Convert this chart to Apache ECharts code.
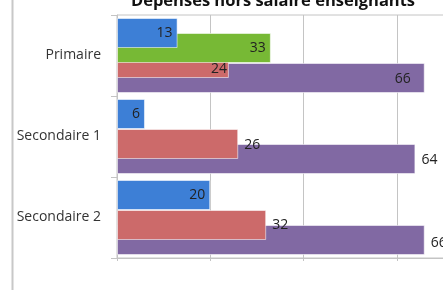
<!DOCTYPE html>
<html>
<head>
<meta charset="utf-8">
<script src="https://cdn.jsdelivr.net/npm/echarts@6/dist/echarts.min.js"></script>
<style>
  html, body { margin: 0; padding: 0; background: #fff; }
  #chart { width: 443px; height: 290px; }
</style>
</head>
<body>
<div id="chart"></div>
<script>
// donnees
const categories = ['Primaire', 'Secondaire 1', 'Secondaire 2']
const serieBleue = [13, 6, 20]
const serieVerte = [33, null, null]
const serieRouge = [24, 26, 32]
const serieViolette = [66, 64, 66]
const xTicks = [0, 20, 40, 60, 80]

const chart = echarts.init(document.getElementById('chart'), null, { renderer: 'canvas' })

const labelFont = { fontFamily: 'Open Sans', fontSize: 14, color: '#222' }

// position des etiquettes (comme Excel : dedans ou a droite)
function labels(values, where, offsets) {
  return values.map((v, i) => ({
    value: v,
    label: Object.assign({
      show: v != null,
      position: where[i] === 'in' ? 'insideRight' : 'right',
      distance: where[i] === 'in' ? 5 : 6,
      offset: (offsets && offsets[i]) || [0, 0]
    }, labelFont)
  }))
}

function barSerie(name, data, color, z) {
  return {
    name: name,
    type: 'bar',
    barWidth: 30,
    barGap: '-50%',
    z: z,
    itemStyle: { color: color, borderColor: 'rgba(255,255,255,0.55)', borderWidth: 1 },
    data: data
  }
}

chart.setOption({
  animation: false,
  title: {
    text: 'Dépenses hors salaire enseignants',
    left: 268,
    textAlign: 'center',
    top: -12,
    textStyle: { fontFamily: 'Open Sans', fontWeight: 'bold', fontSize: 16.5, color: '#111' }
  },
  graphic: [{
    type: 'line',
    shape: { x1: 12.5, y1: 0, x2: 12.5, y2: 290 },
    style: { stroke: '#c8c8c8', lineWidth: 2 }
  }],
  grid: {
    left: 117, top: 15, height: 243, width: 373,
    outerBoundsMode: 'none',
    show: true, borderColor: '#c4c4c4', borderWidth: 1
  },
  xAxis: {
    type: 'value',
    min: xTicks[0],
    max: xTicks[xTicks.length - 1],
    interval: xTicks[1] - xTicks[0],
    axisLabel: { show: false },
    axisLine: { show: true, lineStyle: { color: '#c4c4c4' } },
    axisTick: { show: true, length: 3, lineStyle: { color: '#c4c4c4' } },
    splitLine: { show: true, lineStyle: { color: '#c4c4c4' } }
  },
  yAxis: {
    type: 'category',
    inverse: true,
    data: categories,
    axisLine: { show: true, lineStyle: { color: '#c4c4c4' } },
    axisTick: { show: true, length: 6, lineStyle: { color: '#c4c4c4' } },
    axisLabel: { margin: 16, fontFamily: 'Open Sans', fontSize: 14, color: '#333' }
  },
  series: [
    barSerie('Bleu', labels(serieBleue, ['in', 'in', 'in']), '#3d7fd6', 6),
    barSerie('Vert', labels(serieVerte, ['in', 'in', 'in']), '#77b935', 5),
    barSerie('Rouge', labels(serieRouge, ['in', 'out', 'out'], [[3, 6], [0, 1], [0, 0]]), '#cc6a6a', 4),
    barSerie('Violet', labels(serieViolette, ['in', 'out', 'out'], [[-9, 1], [0, 1], [0, 3]]), '#8169a3', 3)
  ]
})
</script>
</body>
</html>
